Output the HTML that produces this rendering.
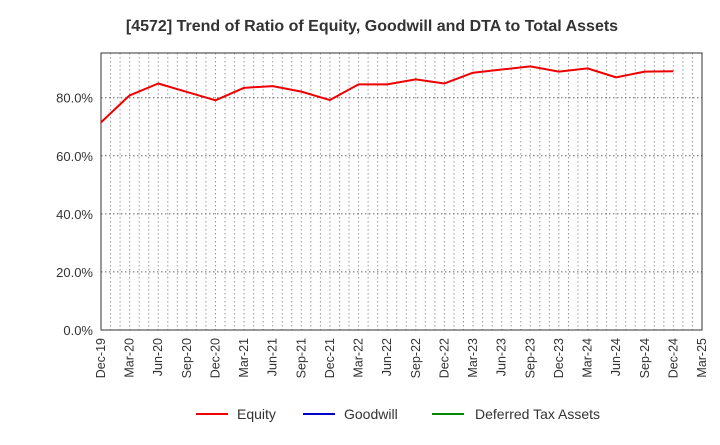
<!DOCTYPE html>
<html><head><meta charset="utf-8"><style>
body{margin:0;background:#fff;font-family:"Liberation Sans",sans-serif;}
svg text{font-family:"Liberation Sans",sans-serif;}
</style></head><body>
<svg id="c" width="720" height="440" xmlns="http://www.w3.org/2000/svg">
<text x="372" y="31" text-anchor="middle" font-size="16" font-weight="bold" fill="#333">[4572]  Trend of Ratio of Equity, Goodwill and DTA to Total Assets</text>
<g id="grid"></g><g id="axes"></g><g id="series"></g>
<g>
<g><line x1="196" y1="414" x2="228" y2="414" stroke="#e00" stroke-width="2"/><text x="237" y="419" font-size="14" fill="#333">Equity</text></g>
<g><line x1="303" y1="414" x2="335" y2="414" stroke="#00c" stroke-width="2"/><text x="344" y="419" font-size="14" fill="#333">Goodwill</text></g>
<g><line x1="432" y1="414" x2="464" y2="414" stroke="#080" stroke-width="2"/><text x="475" y="419" font-size="14" fill="#333">Deferred Tax Assets</text></g>
</g>
</svg>
<script>
const categories=["Dec-19","Mar-20","Jun-20","Sep-20","Dec-20","Mar-21","Jun-21","Sep-21","Dec-21","Mar-22","Jun-22","Sep-22","Dec-22","Mar-23","Jun-23","Sep-23","Dec-23","Mar-24","Jun-24","Sep-24","Dec-24","Mar-25"];
const equity=[71.5,80.8,84.9,82,79.1,83.4,84,82.1,79.2,84.6,84.6,86.3,84.9,88.6,89.7,90.8,89,90.1,87,89,89.1];
const yTicks=[0,20,40,60,80];
const yTickLabels=["0.0%","20.0%","40.0%","60.0%","80.0%"];
const L=101,R=702,T=53,B=330,YMAX=95.4;
const x=i=>L+(R-L)*i/(categories.length-1);
const y=v=>B-(B-T)*v/YMAX;
const NS="http://www.w3.org/2000/svg";
function mk(t,a,p){const e=document.createElementNS(NS,t);for(const k in a)e.setAttribute(k,a[k]);p.appendChild(e);return e;}
const g=document.getElementById('grid'),ax=document.getElementById('axes'),s=document.getElementById('series');
const months=(categories.length-1)*3;
for(let m=1;m<months;m++){const xx=L+(R-L)*m/months;
const l=mk('line',{x1:xx,x2:xx,y1:T,y2:B,stroke:'#999','stroke-dasharray':'1.5,2.5','stroke-width':1},g);

}
yTicks.forEach((v,i)=>{const yy=y(v);
if(v>0){const l=mk('line',{x1:L,x2:R,y1:yy,y2:yy,stroke:'#666','stroke-dasharray':'1.5,2.5'},g);

}
const t=mk('text',{x:L-8,y:yy+5,'text-anchor':'end','font-size':13,fill:'#333'},ax);t.textContent=yTickLabels[i];

});
const fr=mk('rect',{x:L,y:T,width:R-L,height:B-T,fill:'none',stroke:'#333','stroke-width':1},ax);


categories.forEach((c,i)=>{const xx=x(i);
const t=mk('text',{x:xx+4,y:B+8,'text-anchor':'end','font-size':12.5,fill:'#333',transform:`rotate(-90 ${xx+4} ${B+8})`},ax);t.textContent=c;

});
const pl=mk('polyline',{points:equity.map((v,i)=>x(i)+','+y(v)).join(' '),fill:'none',stroke:'#e00','stroke-width':2,'stroke-linejoin':'round'},s);


</script>
</body></html>
